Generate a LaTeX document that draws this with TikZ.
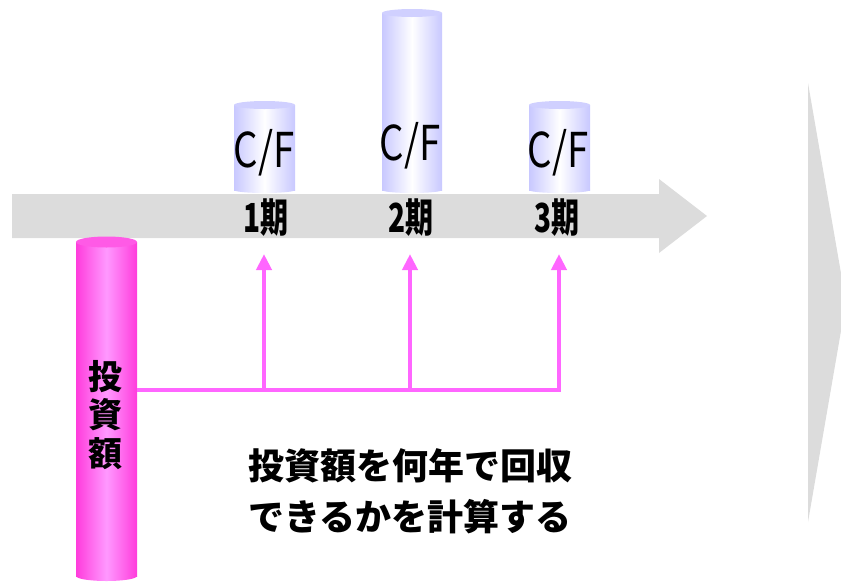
\documentclass[tikz,border=0pt]{standalone}
\usepackage{fontspec}
\setmainfont{Noto Sans CJK JP}
\usetikzlibrary{arrows.meta, positioning}

\definecolor{flowgray}{HTML}{DCDCDC}
\definecolor{cfedge}{HTML}{C8C8FF}
\definecolor{cftop}{HTML}{D0D0FF}
\definecolor{invedge}{HTML}{FF3CDC}
\definecolor{invmid}{HTML}{FF99FF}
\definecolor{invtop}{HTML}{FF5AE6}
\definecolor{paypink}{HTML}{FF66FF}

\begin{document}
\begin{tikzpicture}[
    x=1pt, y=-1pt,
    cfbody/.style={
        left color=cfedge,
        right color=cfedge,
        middle color=white
    },
    invbody/.style={
        left color=invedge,
        right color=invedge,
        middle color=invmid
    },
    cflabel/.style={
        anchor=base,
        inner sep=0pt,
        font=\fontsize{48}{48}\selectfont
    },
    period/.style={
        anchor=base,
        inner sep=0pt,
        font=\fontsize{40}{40}\selectfont\bfseries
    },
    payline/.style={
        draw=paypink,
        line width=4pt
    },
    payarrow/.style={
        payline,
        -{Triangle[width=15pt,length=16pt]}
    }
]

\useasboundingbox (0,0) rectangle (841,582);

% time axis and right chevron
\fill[flowgray] (12,194) -- (659,194) -- (659,179) -- (707,216)
    -- (659,253) -- (659,238) -- (12,238) -- cycle;
\fill[flowgray] (808,83) -- (846,302) -- (808,522) -- cycle;

% cash flow cylinders
\shade[cfbody] (234,105) rectangle (295,190);
\shade[cfbody] (264.5,190) ellipse (30.5 and 3);
\fill[cftop] (264.5,105) ellipse (30.5 and 4);

\shade[cfbody] (382,13) rectangle (442,190);
\shade[cfbody] (412,190) ellipse (30 and 3);
\fill[cftop] (412,13) ellipse (30 and 4);

\shade[cfbody] (529,105) rectangle (590,190);
\shade[cfbody] (559.5,190) ellipse (30.5 and 3);
\fill[cftop] (559.5,105) ellipse (30.5 and 4);

\node[cflabel] (cf1) at (264,167) {\scalebox{0.8}[1]{C/F}};
\node[cflabel] (cf2) at (410,160) {\scalebox{0.8}[1]{C/F}};
\node[cflabel] (cf3) at (558,167) {\scalebox{0.8}[1]{C/F}};

\node[period] (p1) at (266,232) {\scalebox{0.7}[1]{1期}};
\node[period] (p2) at (411,232) {\scalebox{0.7}[1]{2期}};
\node[period] (p3) at (557,232) {\scalebox{0.7}[1]{3期}};

% investment cylinder
\shade[invbody] (76,242) rectangle (137,576);
\shade[invbody] (106.5,576) ellipse (30.5 and 5);
\fill[invtop] (106.5,242) ellipse (30.5 and 5.5);

\node[align=center, inner sep=0pt,
      font=\fontsize{34}{38.5}\selectfont\bfseries] (inv) at (105,415)
      {投\\資\\額};

% recovery arrows
\coordinate (invR) at (137,390);
\coordinate (j1) at (264,390);
\coordinate (j2) at (410,390);
\coordinate (t1) at (264,254);
\coordinate (t2) at (410,254);
\coordinate (t3) at (559,254);

\draw[payarrow] (invR) -| (t3);
\draw[payarrow] (j1) -- (t1);
\draw[payarrow] (j2) -- (t2);

\node[align=center, inner sep=0pt,
      font=\fontsize{36}{51}\selectfont\bfseries] (msg) at (410,491)
      {投資額を何年で回収\\できるかを計算する};

\end{tikzpicture}
\end{document}
